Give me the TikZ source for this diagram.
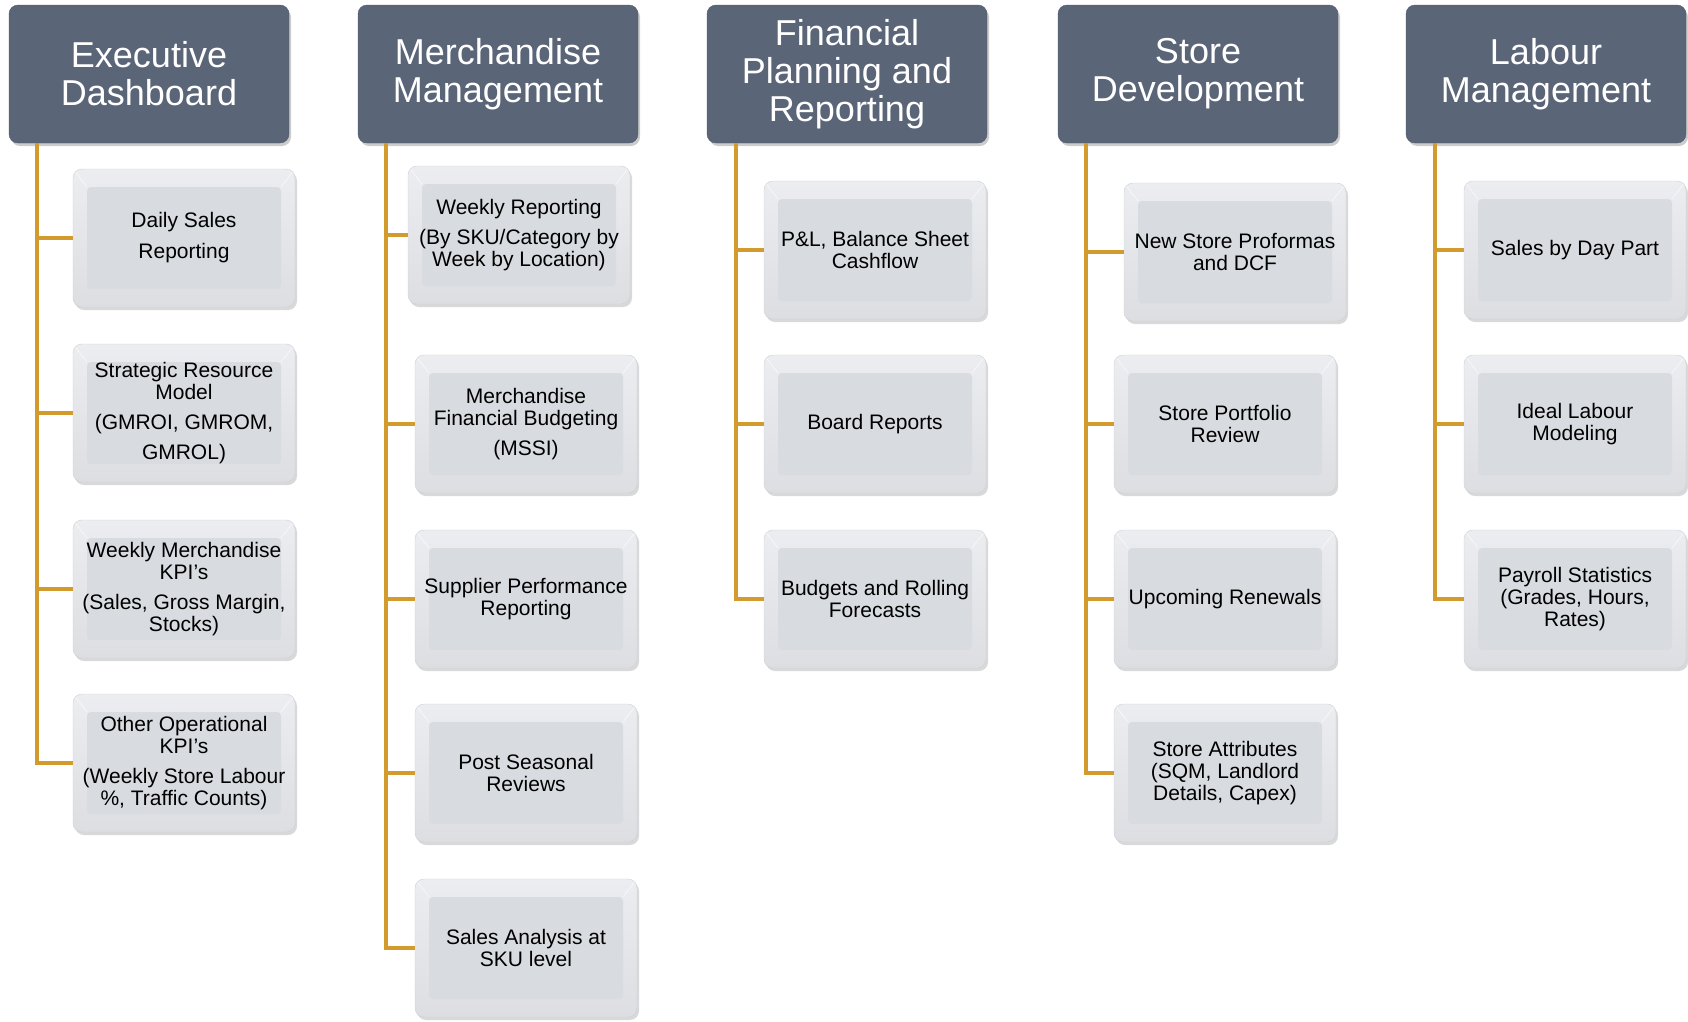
\documentclass[tikz,border=0pt]{standalone}
\usepackage{fontspec}
\setmainfont{Liberation Sans}
\usepackage{tikz}
\usetikzlibrary{calc}
\usetikzlibrary{shadows}
\definecolor{GoldLine}{HTML}{D39A2E}
\definecolor{SlateHead}{HTML}{5B6578}
\definecolor{SlateEdge}{HTML}{4E586B}
\definecolor{BoxTop}{HTML}{ECEDF0}
\definecolor{BoxBot}{HTML}{DCDEE2}
\definecolor{BoxMid}{HTML}{D8DBDF}
\definecolor{BoxEdge}{HTML}{CDD0D5}

\begin{document}
\begin{tikzpicture}[x = 1pt, y = -1pt,
  head/.style = {rounded corners = 9pt, minimum width = 280pt, minimum height = 138pt,
    fill = SlateHead, draw = SlateEdge, text = white,
    align = center, font = \fontsize{36}{38}\selectfont,
    drop shadow = {shadow xshift = 2pt, shadow yshift = -3pt, opacity = .4}},
  item/.style = {rounded corners = 9pt, minimum width = 222pt, minimum height = 138pt,
    top color = BoxTop, bottom color = BoxBot, draw = BoxEdge,
    align = center, font = \fontsize{21}{22}\selectfont,
    path picture = {
      \fill[BoxMid, rounded corners = 4pt]
        ($(path picture bounding box.north west)+(14,18)$)
        rectangle ($(path picture bounding box.south east)+(-14,-18)$);
      \draw[white, opacity = .6, line width = .8pt]
        (path picture bounding box.north west) -- ++(14,18)
        (path picture bounding box.north east) -- ++(-14,18);},
    drop shadow = {shadow xshift = 2pt, shadow yshift = -3pt, opacity = .3}},
  branch/.style = {draw = GoldLine, line width = 4.5pt}]

  \useasboundingbox (0,0) rectangle (1688,1021);

  % column heads
  \node[head] (ed) at (149,74) {Executive\\Dashboard};
  \node[head] (mm) at (498,74) {Merchandise\\Management};
  \node[head] (fp) at (847,74) {Financial\\Planning and\\Reporting};
  \node[head] (sd) at (1198,74) {Store\\Development};
  \node[head] (lm) at (1546,74) {Labour\\Management};

  % executive dashboard
  \node[item] (ed1) at (184,238) {Daily Sales\\[9pt]Reporting};
  \node[item] (ed2) at (184,413) {Strategic Resource\\Model\\[8pt](GMROI, GMROM,\\[8pt]GMROL)};
  \node[item] (ed3) at (184,589) {Weekly Merchandise\\KPI’s\\[8pt](Sales, Gross Margin,\\Stocks)};
  \node[item] (ed4) at (184,763) {Other Operational\\KPI’s\\[8pt](Weekly Store Labour\\\%, Traffic Counts)};

  % merchandise management
  \node[item] (mm1) at (519,235) {Weekly Reporting\\[8pt](By SKU/Category by\\Week by Location)};
  \node[item] (mm2) at (526,424) {Merchandise\\Financial Budgeting\\[8pt](MSSI)};
  \node[item] (mm3) at (526,599) {Supplier Performance\\Reporting};
  \node[item] (mm4) at (526,773) {Post Seasonal\\Reviews};
  \node[item] (mm5) at (526,948) {Sales Analysis at\\SKU level};

  % financial planning
  \node[item] (fp1) at (875,250) {P\&L, Balance Sheet\\Cashflow};
  \node[item] (fp2) at (875,424) {Board Reports};
  \node[item] (fp3) at (875,599) {Budgets and Rolling\\Forecasts};

  % store development
  \node[item] (sd1) at (1235,252) {New Store Proformas\\and DCF};
  \node[item] (sd2) at (1225,424) {Store Portfolio\\Review};
  \node[item] (sd3) at (1225,599) {Upcoming Renewals};
  \node[item] (sd4) at (1225,773) {Store Attributes\\(SQM, Landlord\\Details, Capex)};

  % labour management
  \node[item] (lm1) at (1575,250) {Sales by Day Part};
  \node[item] (lm2) at (1575,424) {Ideal Labour\\Modeling};
  \node[item] (lm3) at (1575,599) {Payroll Statistics\\(Grades, Hours,\\Rates)};

  % trunks
  \coordinate (edt) at ($(ed.south west)+(28,0)$);
  \coordinate (mmt) at ($(mm.south west)+(28,0)$);
  \coordinate (fpt) at ($(fp.south west)+(29,0)$);
  \coordinate (sdt) at ($(sd.south west)+(28,0)$);
  \coordinate (lmt) at ($(lm.south west)+(29,0)$);

  \draw[branch] (edt) |- (ed4.west);
  \draw[branch] (ed1.west) -- (ed1.west -| edt);
  \draw[branch] (ed2.west) -- (ed2.west -| edt);
  \draw[branch] (ed3.west) -- (ed3.west -| edt);

  \draw[branch] (mmt) |- (mm5.west);
  \draw[branch] (mm1.west) -- (mm1.west -| mmt);
  \draw[branch] (mm2.west) -- (mm2.west -| mmt);
  \draw[branch] (mm3.west) -- (mm3.west -| mmt);
  \draw[branch] (mm4.west) -- (mm4.west -| mmt);

  \draw[branch] (fpt) |- (fp3.west);
  \draw[branch] (fp1.west) -- (fp1.west -| fpt);
  \draw[branch] (fp2.west) -- (fp2.west -| fpt);

  \draw[branch] (sdt) |- (sd4.west);
  \draw[branch] (sd1.west) -- (sd1.west -| sdt);
  \draw[branch] (sd2.west) -- (sd2.west -| sdt);
  \draw[branch] (sd3.west) -- (sd3.west -| sdt);

  \draw[branch] (lmt) |- (lm3.west);
  \draw[branch] (lm1.west) -- (lm1.west -| lmt);
  \draw[branch] (lm2.west) -- (lm2.west -| lmt);
\end{tikzpicture}
\end{document}
